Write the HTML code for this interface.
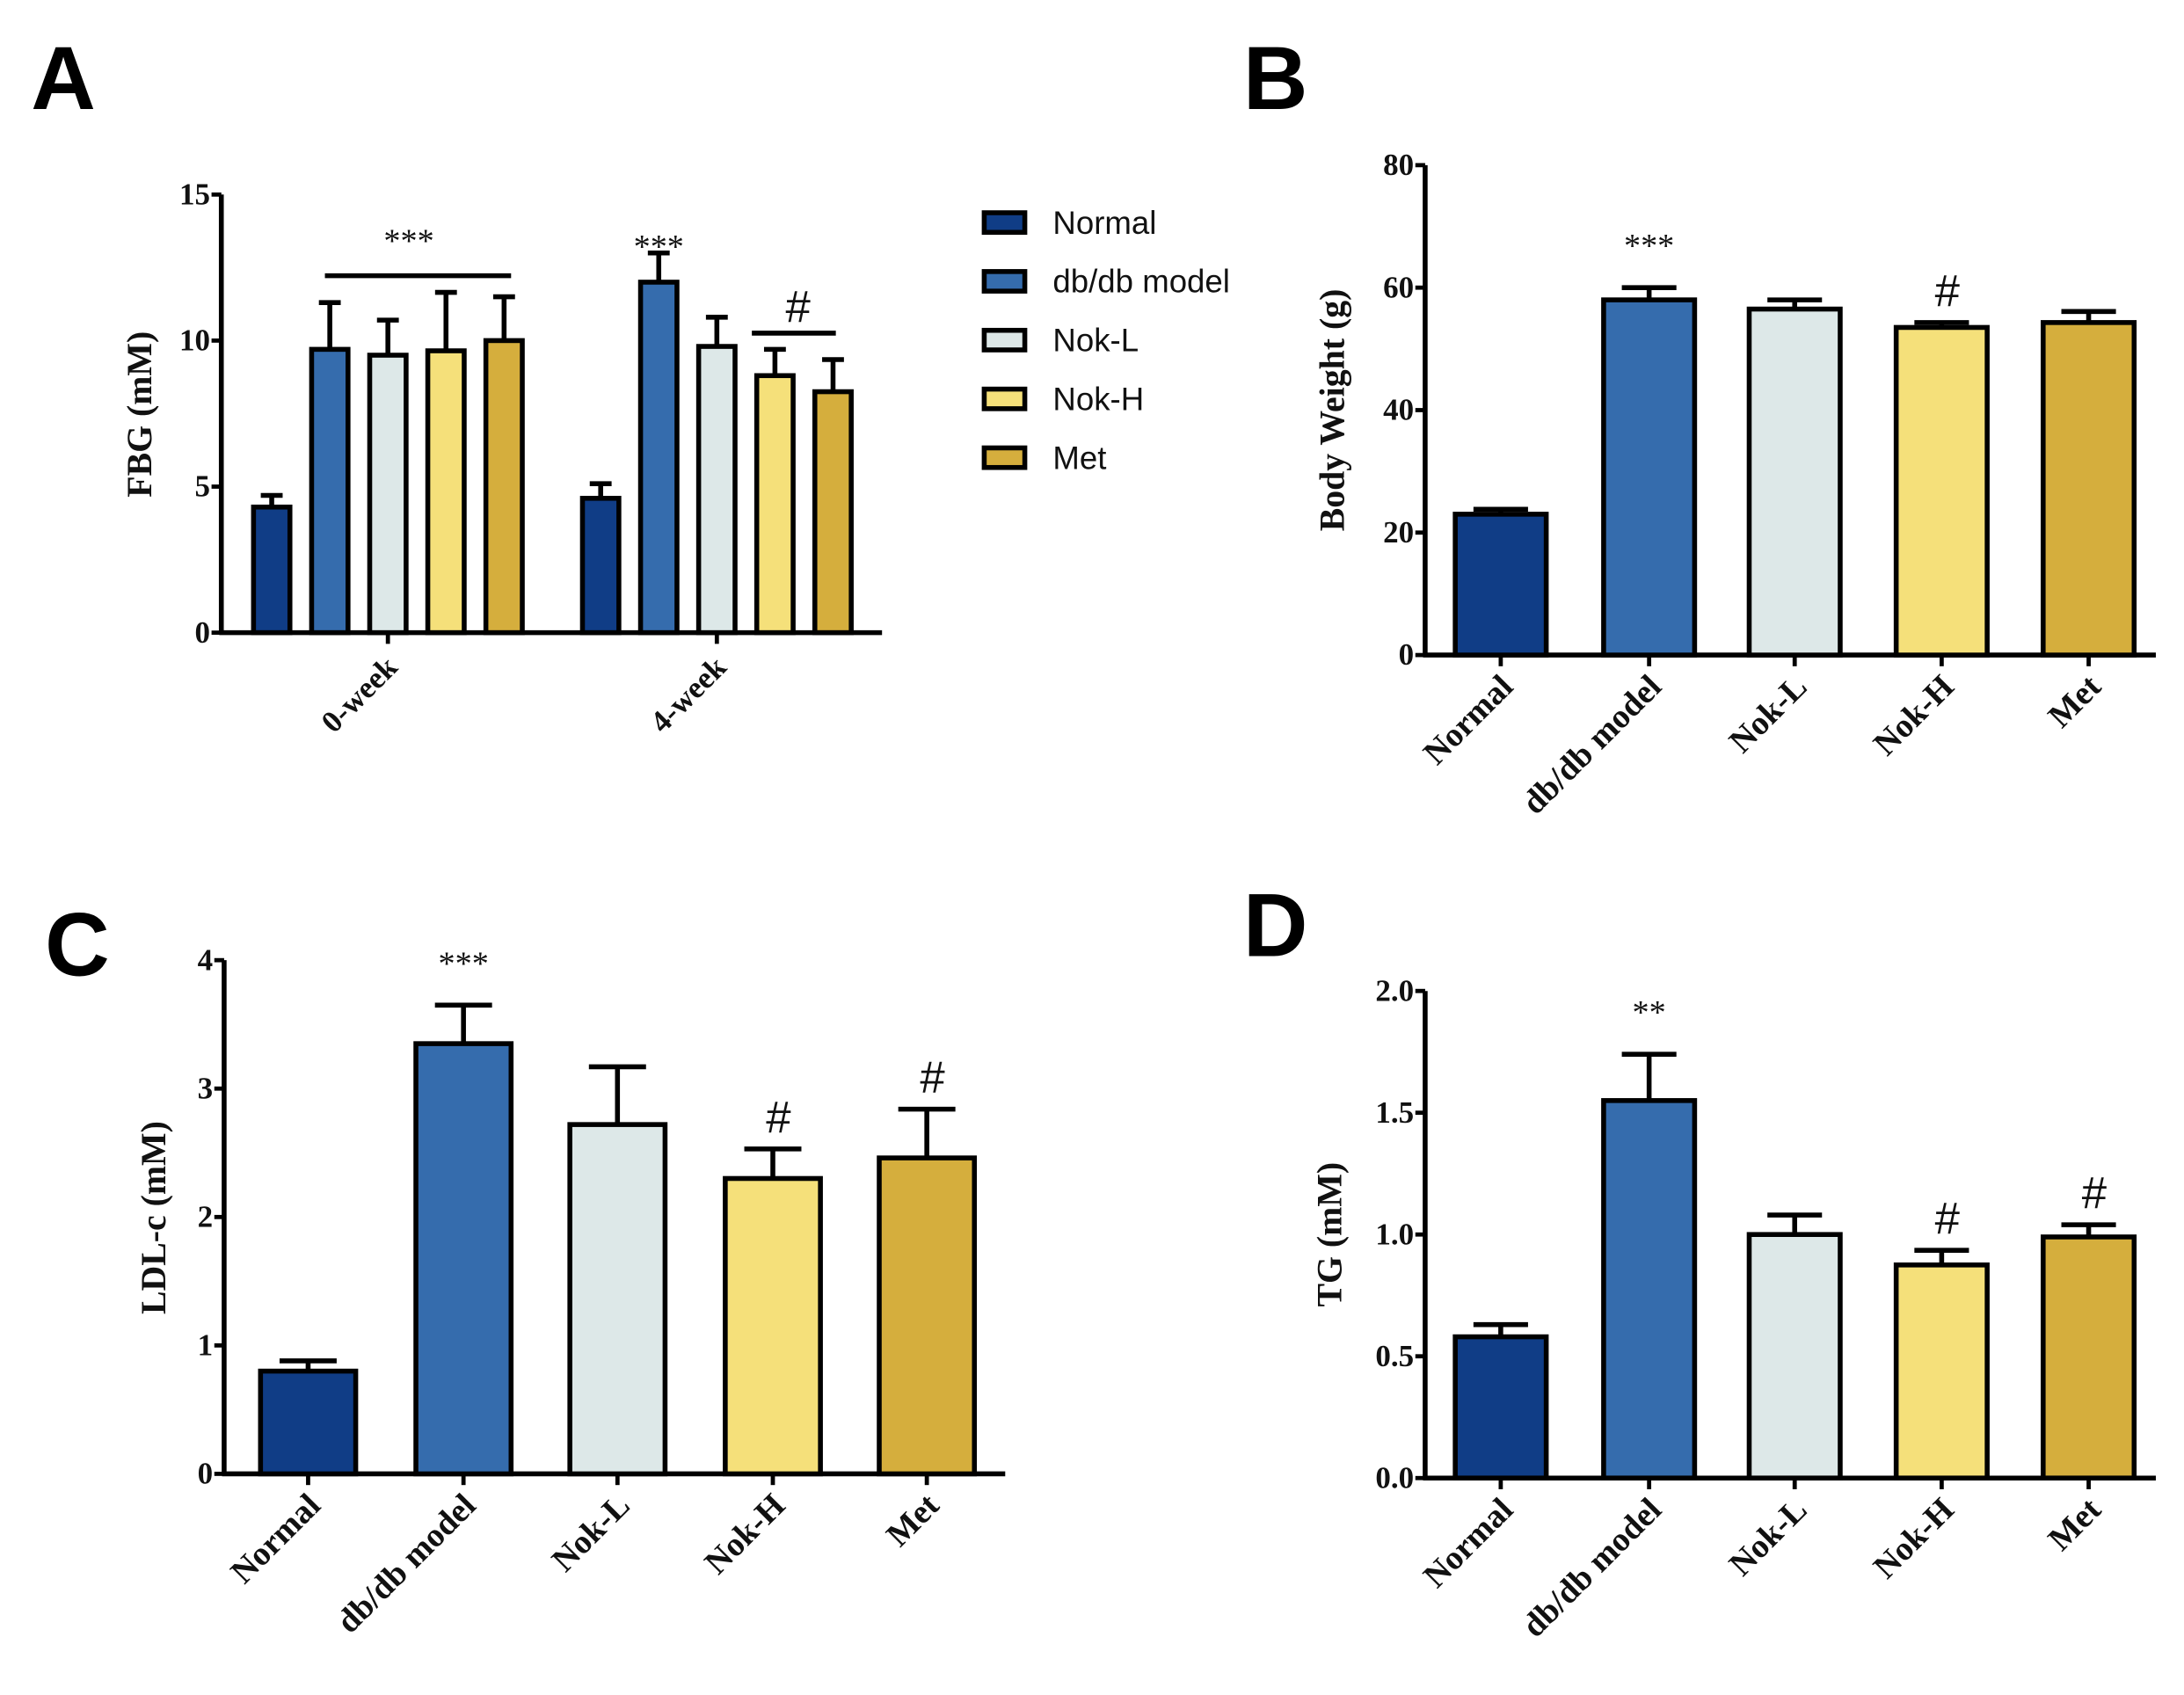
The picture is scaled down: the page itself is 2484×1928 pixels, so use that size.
<!DOCTYPE html>
<html><head><meta charset="utf-8">
<style>
html,body{margin:0;padding:0;background:#fff;}
svg{display:block;}
.tick{font-family:"Liberation Serif",serif;font-weight:bold;font-size:22px;fill:#111;}
.lab{font-family:"Liberation Serif",serif;font-weight:bold;font-size:25px;fill:#111;}
.cat{font-family:"Liberation Serif",serif;font-weight:bold;font-size:24px;fill:#111;}
.letter{font-family:"Liberation Sans",sans-serif;font-weight:bold;font-size:64px;fill:#000;}
.leg{font-family:"Liberation Sans",sans-serif;font-size:23px;fill:#111;}
.sig{font-family:"Liberation Serif",serif;font-size:24px;fill:#111;}
.hash{font-family:"Liberation Sans",sans-serif;font-size:32px;fill:#111;}
</style></head>
<body>
<svg id="fig" width="2484" height="1928" viewBox="0 0 1560 1211" xmlns="http://www.w3.org/2000/svg">
<text class="letter" x="22" y="78">A</text>
<text class="letter" x="888" y="78">B</text>
<text class="letter" x="32" y="697">C</text>
<text class="letter" x="888" y="683">D</text>
</svg>
<script>
const groups = ["Normal","db/db model","Nok-L","Nok-H","Met"];
const colors = ["#103d86","#356cad","#dde8e8","#f5e07a","#d5ae3d"];
// Panel A
const aCats = ["0-week","4-week"];
const aMean0 = [4.3,9.7,9.5,9.65,10.0];
const aErr0 = [0.4,1.6,1.2,2.0,1.5];
const aMean4 = [4.6,12.0,9.8,8.8,8.25];
const aErr4 = [0.5,1.0,1.0,0.9,1.1];
const aTicks = [0,5,10,15];
// Panel B
const bMean = [23,58,56.5,53.5,54.3];
const bErr = [0.8,2.0,1.5,0.8,1.8];
const bTicks = [0,20,40,60,80];
const bSig = ["","***","","#",""];
// Panel C
const cMean = [0.8,3.35,2.72,2.3,2.46];
const cErr = [0.08,0.3,0.45,0.23,0.38];
const cTicks = [0,1,2,3,4];
const cSig = ["","***","","#","#"];
// Panel D
const dMean = [0.58,1.55,1.0,0.875,0.99];
const dErr = [0.05,0.19,0.08,0.06,0.05];
const dTicks = ["0.0","0.5","1.0","1.5","2.0"];
const dSig = ["","**","","#","#"];

const svg = document.getElementById('fig');
const NS = "http://www.w3.org/2000/svg";
function el(tag, attrs, parent){
  const e = document.createElementNS(NS, tag);
  for (const k in attrs) e.setAttribute(k, attrs[k]);
  (parent||svg).appendChild(e);
  return e;
}
function yScale(y0,y1,max){ return v => y0 - (v/max)*(y0-y1); }

function axes(g, x0, x1, y0, y1, max, ticks){
  const ys = yScale(y0,y1,max);
  const ax = el('line',{x1:x0,y1:y1,x2:x0,y2:y0,stroke:'#000','stroke-width':3.5},g);
  
  
  const bx = el('line',{x1:x0-1.5,y1:y0,x2:x1,y2:y0,stroke:'#000','stroke-width':3.5},g);
  
  
  ticks.forEach(t=>{
    const v = parseFloat(t);
    el('line',{x1:x0-7,y1:ys(v),x2:x0,y2:ys(v),stroke:'#000','stroke-width':3},g);
    const tx = el('text',{x:x0-8,y:ys(v)+7,'text-anchor':'end',class:'tick'},g);
    tx.textContent = t;
    
    
  });
  return ys;
}
function bar(g, cx, w, ys, y0, mean, err, color){
  const top = ys(mean), etop = ys(mean+err);
  el('line',{x1:cx,y1:top,x2:cx,y2:etop,stroke:'#000','stroke-width':3.5},g);
  el('line',{x1:cx-w*0.3,y1:etop,x2:cx+w*0.3,y2:etop,stroke:'#000','stroke-width':3.5},g);
  const r = el('rect',{x:cx-w/2,y:top,width:w,height:y0-top,fill:color,stroke:'#000','stroke-width':3.5},g);
  
  
}
function ylab(g, x, y, txt){
  const t = el('text',{x:0,y:0,transform:`translate(${x},${y}) rotate(-90)`,'text-anchor':'middle',class:'lab'},g);
  t.textContent = txt;
  
  
}
function catLabel(g, cx, y0, txt){
  el('line',{x1:cx,y1:y0,x2:cx,y2:y0+8,stroke:'#000','stroke-width':3},g);
  const t = el('text',{x:0,y:0,transform:`translate(${cx+10},${y0+24}) rotate(-45)`,'text-anchor':'end',class:'cat'},g);
  t.textContent = txt;
  
  
}
function sig(g, x, y, txt){
  const t = el('text',{x:x,y:y,'text-anchor':'middle',class:(txt==='#'?'hash':'sig')},g);
  t.textContent = txt;
  
  
}

// ---------- Panel A ----------
(function(){
  const g = el('g',{});
  
  
  const x0=158,x1=630,y0=452,y1=139,max=15;
  const ys = axes(g,x0,x1,y0,y1,max,aTicks);
  const w=26, step=41.5;
  const gc=[277,512];
  [aMean0,aMean4].forEach((m,gi)=>{
    const e = gi===0?aErr0:aErr4;
    m.forEach((v,i)=>bar(g, gc[gi]+(i-2)*step, w, ys, y0, v, e[i], colors[i]));
    el('line',{x1:gc[gi],y1:y0,x2:gc[gi],y2:y0+8,stroke:'#000','stroke-width':3},g);
    const t = el('text',{x:0,y:0,transform:`translate(${gc[gi]+8},${y0+26}) rotate(-45)`,'text-anchor':'end',class:'tick'},g);
    t.textContent = aCats[gi];
    
    
  });
  ylab(g,108,296,'FBG (mM)');
  el('line',{x1:232,y1:197,x2:365,y2:197,stroke:'#000','stroke-width':3.5},g);
  sig(g,292,180,'***');
  sig(g,gc[1]-step,184,'***');
  el('line',{x1:537,y1:238,x2:597,y2:238,stroke:'#000','stroke-width':3.5},g);
  sig(g,570,230,'#');
  groups.forEach((n,i)=>{
    const y = 159 + i*42;
    const r = el('rect',{x:703,y:y-7,width:29,height:14,fill:colors[i],stroke:'#000','stroke-width':3.5},g);
    
    
    const t = el('text',{x:752,y:y+8,class:'leg'},g);
    t.textContent = n;
    
    
  });
})();

function simplePanel(name, x0,x1,y0,y1,max,ticks,means,errs,sigs,centers,w,title,tx,ty){
  const g = el('g',{});
  
  
  const ys = axes(g,x0,x1,y0,y1,max,ticks);
  means.forEach((v,i)=>{
    bar(g,centers[i],w,ys,y0,v,errs[i],colors[i]);
    catLabel(g,centers[i],y0,groups[i]);
    if (sigs[i]) sig(g,centers[i]+(sigs[i]==='#'?4:0), ys(v+errs[i]) - (sigs[i]==='#'?12:22), sigs[i]);
  });
  ylab(g,tx,ty,title);
}
const cB=[1072,1178,1282,1387,1492];
simplePanel('body-weight-chart',1018,1540,468,118,80,bTicks,bMean,bErr,bSig,cB,65,'Body Weight (g)',960,293);
simplePanel('ldl-chart',160,718,1053,686,4,cTicks,cMean,cErr,cSig,[220,331,441,552,662],68,'LDL-c (mM)',118,870);
simplePanel('tg-chart',1018,1540,1056,708,2,dTicks,dMean,dErr,dSig,cB,65,'TG (mM)',958,882);
</script>
</body></html>
